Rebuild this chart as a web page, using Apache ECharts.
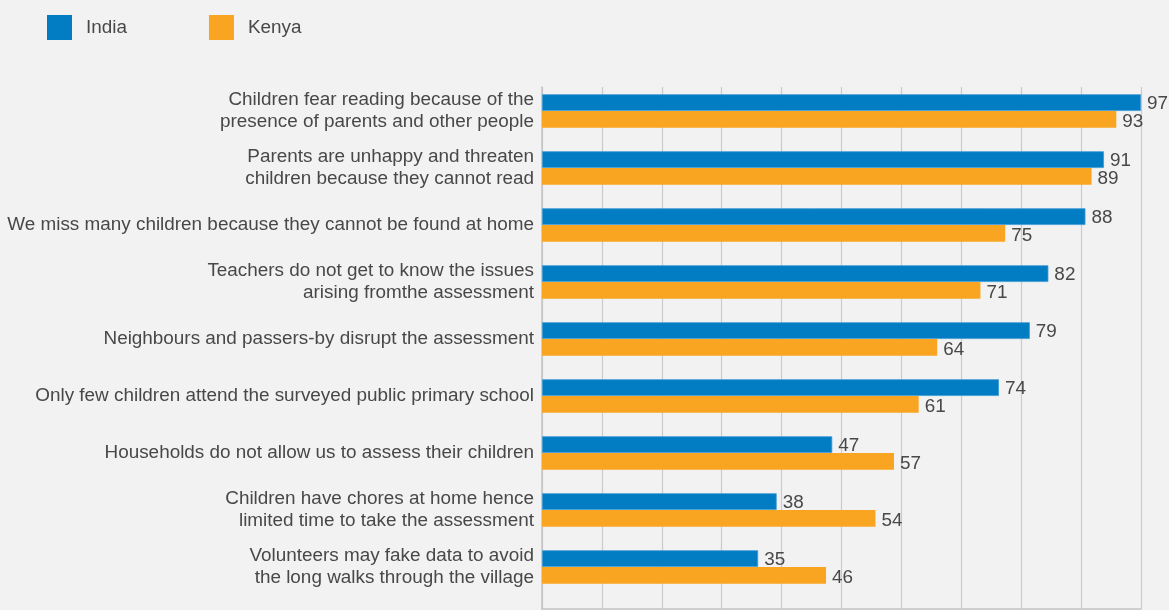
<!DOCTYPE html>
<html>
<head>
<meta charset="utf-8">
<script src="https://cdn.jsdelivr.net/npm/echarts@6/dist/echarts.min.js"></script>
<style>
html,body{margin:0;padding:0;background:#f2f2f2;}
#c{width:1169px;height:610px;}
</style>
</head>
<body>
<div id="c"></div>
<script>
const categories = [
  "Children fear reading because of the\npresence of parents and other people",
  "Parents are unhappy and threaten\nchildren because they cannot read",
  "We miss many children because they cannot be found at home",
  "Teachers do not get to know the issues\narising fromthe assessment",
  "Neighbours and passers-by disrupt the assessment",
  "Only few children attend the surveyed public primary school",
  "Households do not allow us to assess their children",
  "Children have chores at home hence\nlimited time to take the assessment",
  "Volunteers may fake data to avoid\nthe long walks through the village"
];
const india = [97, 91, 88, 82, 79, 74, 47, 38, 35];
const kenya = [93, 89, 75, 71, 64, 61, 57, 54, 46];
const axisMax = 97;

const FONT = '"Liberation Sans", Arial, Helvetica, sans-serif';
const FS = 18.9;
const TXT = '#484848';
const chart = echarts.init(document.getElementById('c'), null, {renderer: 'canvas'});
chart.setOption({
  backgroundColor: '#f2f2f2',
  animation: false,
  textStyle: {fontFamily: FONT},
  legend: {
    left: 47, top: 15, padding: 0,
    itemWidth: 25, itemHeight: 25, itemGap: 82,
    icon: 'rect',
    itemStyle: {borderWidth: 0},
    textStyle: {fontSize: FS, color: TXT, fontFamily: FONT, padding: [0, 0, 0, 9]},
    data: ['India', 'Kenya']
  },
  grid: [
    {left: 542, top: 82.5, width: 599, height: 513, containLabel: false},
    {left: 542, top: 87, width: 599, height: 522, containLabel: false}
  ],
  xAxis: [
    {gridIndex: 0, type: 'value', min: 0, max: axisMax, show: false},
    {gridIndex: 1, type: 'value', min: 0, max: axisMax, interval: axisMax / 10,
     axisLine: {show: true, lineStyle: {color: '#c4c4c4', width: 1.5}},
     axisTick: {show: false}, axisLabel: {show: false},
     splitLine: {show: true, lineStyle: {color: '#cbcbcb', width: 1.2}}}
  ],
  yAxis: [
    {gridIndex: 0, type: 'category', inverse: true, data: categories,
     axisLine: {show: false}, axisTick: {show: false},
     axisLabel: {fontSize: FS, color: TXT, fontFamily: FONT, lineHeight: 22, margin: 8, align: 'right'}},
    {gridIndex: 1, type: 'value', min: 0, max: 1,
     axisLine: {show: true, lineStyle: {color: '#c4c4c4', width: 1.5}},
     axisTick: {show: false}, axisLabel: {show: false}, splitLine: {show: false}}
  ],
  series: [
    {name: 'India', type: 'bar', xAxisIndex: 0, yAxisIndex: 0, data: india,
     barWidth: 16.75, barGap: '0%',
     itemStyle: {color: '#027dc4', borderColor: '#3d9ad6', borderWidth: 0.8},
     label: {show: true, position: 'right', distance: 6, offset: [0, 1.5], fontSize: FS, color: TXT, fontFamily: FONT}},
    {name: 'Kenya', type: 'bar', xAxisIndex: 0, yAxisIndex: 0, data: kenya,
     barWidth: 16.75, barGap: '0%',
     itemStyle: {color: '#f9a521'},
     label: {show: true, position: 'right', distance: 6, offset: [0, 2.5], fontSize: FS, color: TXT, fontFamily: FONT}}
  ]
});
</script>
</body>
</html>
